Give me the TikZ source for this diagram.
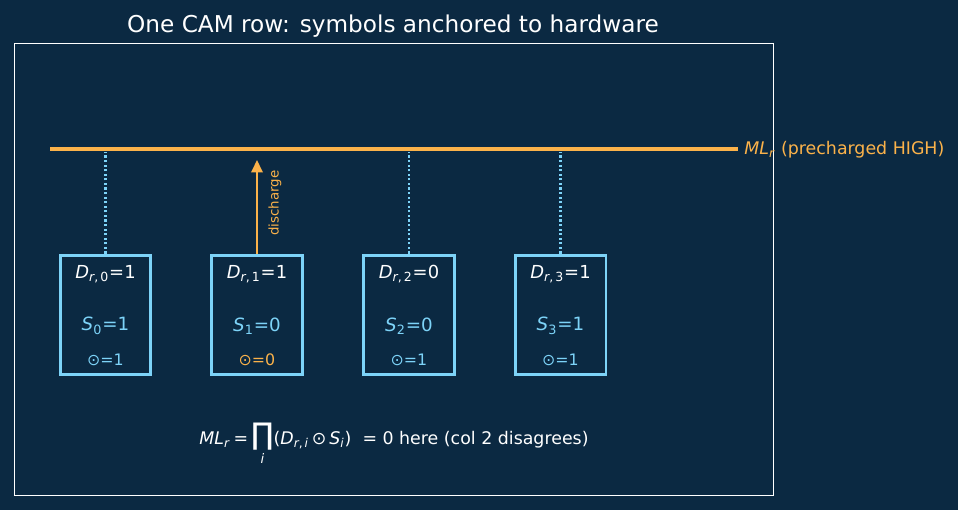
\documentclass[tikz,border=0pt]{standalone}
\usepackage{amsmath}
\usepackage{fontspec}
\setmainfont{DejaVu Sans}
\usetikzlibrary{arrows.meta,positioning}
\definecolor{bgnavy}{HTML}{0B2942}
\definecolor{mlorange}{HTML}{FBB24A}
\definecolor{cellblue}{HTML}{7DD3F8}
\newcommand{\xnor}{⊙}
\newcommand{\dval}[2]{\textit{D}\textsubscript{\textit{r},\,#1}=#2}
\newcommand{\sval}[2]{\textit{S}\textsubscript{#1}=#2}

\begin{document}
\begin{tikzpicture}[
    x=0.02cm, y=-0.02cm,
    cell/.style={draw=cellblue, line width=1.7pt, minimum width=1.82cm,
        minimum height=2.4cm, inner sep=0pt},
    dtext/.style={text=white, font=\fontsize{10.2}{12}\selectfont},
    stext/.style={text=cellblue, font=\fontsize{10.4}{12}\selectfont},
    xtext/.style={text=cellblue, font=\fontsize{9}{11}\selectfont},
    probe/.style={cellblue, line width=1.2pt, dash pattern=on 1.2pt off 1.4pt},
    arrow/.style={-{Triangle[length=7pt, width=6.5pt]}},
]
\fill[bgnavy] (0,0) rectangle (958,510);
\useasboundingbox (0,0) rectangle (958,510);

% ===== TITLE AND FRAME =====
\node[text=white, font=\fontsize{13.2}{16}\selectfont] (title) at (393,26)
    {One CAM row: symbols anchored to hardware};
\node[draw=white, line width=0.6pt, minimum width=15.2cm, minimum height=9.06cm,
    inner sep=0pt] (frame) at (394,269.5) {};

% ===== MATCH LINE =====
\coordinate (ml_l) at (50,149);
\coordinate (ml_r) at (738,149);
\draw[mlorange, line width=2.4pt] (ml_l) -- (ml_r);
\node[anchor=west, text=mlorange, font=\fontsize{9.9}{12}\selectfont, inner sep=0pt]
    (mllab) at (744,150) {\textit{ML}\textsubscript{\textit{r}} (precharged HIGH)};

\coordinate (tap0) at (105.5,149);
\coordinate (tap1) at (257,149);
\coordinate (tap2) at (409,149);
\coordinate (tap3) at (560.5,149);

% ===== CELLS =====
\node[cell] (c0) at (105.5,315) {};
\node[cell] (c1) at (257,315) {};
\node[cell] (c2) at (409,315) {};
\node[cell] (c3) at (560.5,315) {};

\node[dtext] (d0) at (105.5,274) {\dval{0}{1}};
\node[dtext] (d1) at (257,274) {\dval{1}{1}};
\node[dtext] (d2) at (409,274) {\dval{2}{0}};
\node[dtext] (d3) at (560.5,274) {\dval{3}{1}};

\node[stext] (s0) at (105.5,326) {\sval{0}{1}};
\node[stext] (s1) at (257,326) {\sval{1}{0}};
\node[stext] (s2) at (409,326) {\sval{2}{0}};
\node[stext] (s3) at (560.5,326) {\sval{3}{1}};

\node[xtext] (x0) at (105.5,360) {\xnor=1};
\node[xtext, text=mlorange] (x1) at (257,360) {\xnor=0};
\node[xtext] (x2) at (409,360) {\xnor=1};
\node[xtext] (x3) at (560.5,360) {\xnor=1};

% Cells that agree leave the line alone
\draw[probe] (c0.north) -- ([yshift=-1.5pt]tap0);
\draw[probe] (c2.north) -- ([yshift=-1.5pt]tap2);
\draw[probe] (c3.north) -- ([yshift=-1.5pt]tap3);

% The mismatching cell pulls the line down
\draw[arrow, mlorange, line width=1.2pt, shorten >=6.3pt] (c1.north) -- (tap1);
\node[text=mlorange, rotate=90, font=\fontsize{7.6}{9}\selectfont] (dis) at (275,203)
    {discharge};

% ===== FORMULA =====
\node[text=white, font=\fontsize{9.9}{12}\selectfont] (formula) at (394,444)
    {\textit{ML}\textsubscript{\textit{r}}\,=\,%
    $\mathop{\text{\fontsize{17}{17}\selectfont ∏}}\limits_{\text{\fontsize{7.5}{8}\selectfont\itshape i}}$%
    (\textit{D}\textsubscript{\textit{r},\,\textit{i}}\,\xnor\,\textit{S}\textsubscript{\textit{i}})~~=~0 here (col 2 disagrees)};

\end{tikzpicture}
\end{document}
